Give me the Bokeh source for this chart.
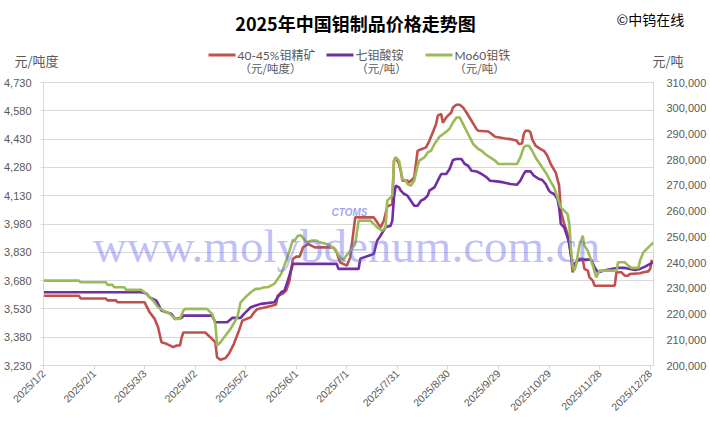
import math
import pandas as pd
from bokeh.plotting import figure
from bokeh.layouts import column
from bokeh.models import (Range1d, LinearAxis, FixedTicker, NumeralTickFormatter,
                          CustomJSTickFormatter, Label, BoxAnnotation)
from bokeh.embed import file_html
from bokeh.resources import INLINE

# ---------------- data ----------------
title_text = "2025年中国钼制品价格走势图"
copyright_text = "©中钨在线"
left_unit = "元/吨度"
right_unit = "元/吨"
series_names = ["40-45%钼精矿", "七钼酸铵", "Mo60钼铁"]
series_units = ["（元/吨度）", "（元/吨）", "（元/吨）"]

x_ticks = ["2025-01-02", "2025-02-01", "2025-03-03", "2025-04-02", "2025-05-02",
           "2025-06-01", "2025-07-01", "2025-07-31", "2025-08-30", "2025-09-29",
           "2025-10-29", "2025-11-28", "2025-12-28"]
left_ticks = [3230, 3380, 3530, 3680, 3830, 3980, 4130, 4280, 4430, 4580, 4730]
right_ticks = [200000, 210000, 220000, 230000, 240000, 250000, 260000, 270000,
               280000, 290000, 300000, 310000]

conc_dates = ["2025-01-02", "2025-01-23", "2025-01-24", "2025-02-08", "2025-02-09", "2025-02-14",
              "2025-02-15", "2025-03-03", "2025-03-06", "2025-03-09", "2025-03-11", "2025-03-13",
              "2025-03-16", "2025-03-20", "2025-03-22", "2025-03-24", "2025-03-25", "2025-03-26",
              "2025-04-08", "2025-04-11", "2025-04-14", "2025-04-15", "2025-04-17", "2025-04-20",
              "2025-04-22", "2025-04-25", "2025-04-28", "2025-04-30", "2025-05-05", "2025-05-07",
              "2025-05-09", "2025-05-14", "2025-05-18", "2025-05-20", "2025-05-21", "2025-05-24",
              "2025-05-26", "2025-05-28", "2025-05-30", "2025-06-01", "2025-06-03", "2025-06-05",
              "2025-06-08", "2025-06-10", "2025-06-12", "2025-06-23", "2025-06-25", "2025-06-27",
              "2025-07-01", "2025-07-03", "2025-07-06", "2025-07-17", "2025-07-19", "2025-07-21",
              "2025-07-23", "2025-07-25", "2025-07-28", "2025-07-29", "2025-07-30", "2025-08-01",
              "2025-08-02", "2025-08-03", "2025-08-06", "2025-08-07", "2025-08-10", "2025-08-12",
              "2025-08-17", "2025-08-19", "2025-08-21", "2025-08-23", "2025-08-24", "2025-08-26",
              "2025-08-27", "2025-08-29", "2025-09-01", "2025-09-02", "2025-09-04", "2025-09-06",
              "2025-09-08", "2025-09-10", "2025-09-13", "2025-09-16", "2025-09-17", "2025-09-23",
              "2025-09-25", "2025-09-27", "2025-10-03", "2025-10-06", "2025-10-10", "2025-10-11",
              "2025-10-13", "2025-10-14", "2025-10-15", "2025-10-17", "2025-10-18", "2025-10-19",
              "2025-10-21", "2025-10-24", "2025-10-26", "2025-10-28", "2025-10-30", "2025-11-02",
              "2025-11-04", "2025-11-05", "2025-11-07", "2025-11-09", "2025-11-11", "2025-11-12",
              "2025-11-14", "2025-11-16", "2025-11-18", "2025-11-19", "2025-11-21", "2025-11-22",
              "2025-11-24", "2025-11-25", "2025-12-07", "2025-12-08", "2025-12-11", "2025-12-13",
              "2025-12-15", "2025-12-16", "2025-12-22", "2025-12-24", "2025-12-27", "2025-12-28",
              "2025-12-29"]
conc_vals = [3600, 3600, 3585, 3585, 3575, 3575,
             3565, 3565, 3512, 3477, 3433, 3353,
             3345, 3327, 3336, 3336, 3380, 3405,
             3405, 3380, 3353, 3274, 3260, 3269,
             3292, 3345, 3415, 3468, 3486, 3512,
             3530, 3539, 3548, 3553, 3601, 3610,
             3627, 3680, 3795, 3807, 3807, 3856,
             3874, 3865, 3856, 3856, 3830, 3777,
             3759, 3803, 4015, 4015, 3989, 3962,
             3998, 4072, 4086, 4315, 4333, 4298,
             4262, 4210, 4210, 4200, 4227, 4368,
             4386, 4421, 4465, 4510, 4554, 4563,
             4517, 4545, 4571, 4598, 4612, 4612,
             4598, 4571, 4527, 4483, 4474, 4470,
             4457, 4442, 4433, 4430, 4421, 4404,
             4407, 4457, 4474, 4474, 4465, 4430,
             4395, 4377, 4368, 4342, 4298, 4252,
             4183, 4051, 3980, 3927, 3821, 3724,
             3777, 3795, 3795, 3742, 3733, 3697,
             3680, 3653, 3653, 3724, 3724, 3706,
             3706, 3715, 3719, 3724, 3729, 3742,
             3790]

apt_dates = ["2025-01-02", "2025-03-01", "2025-03-04", "2025-03-06", "2025-03-10", "2025-03-13",
             "2025-03-16", "2025-03-19", "2025-03-21", "2025-03-25", "2025-03-26", "2025-04-12",
             "2025-04-14", "2025-04-21", "2025-04-24", "2025-04-29", "2025-05-01", "2025-05-05",
             "2025-05-08", "2025-05-11", "2025-05-19", "2025-05-21", "2025-05-23", "2025-05-25",
             "2025-05-27", "2025-05-30", "2025-06-25", "2025-06-26", "2025-07-08", "2025-07-09",
             "2025-07-17", "2025-07-19", "2025-07-21", "2025-07-24", "2025-07-27", "2025-07-28",
             "2025-07-29", "2025-07-30", "2025-08-01", "2025-08-02", "2025-08-04", "2025-08-06",
             "2025-08-08", "2025-08-10", "2025-08-12", "2025-08-14", "2025-08-16", "2025-08-18",
             "2025-08-19", "2025-08-22", "2025-08-24", "2025-08-26", "2025-08-29", "2025-08-31",
             "2025-09-02", "2025-09-04", "2025-09-07", "2025-09-09", "2025-09-11", "2025-09-13",
             "2025-09-16", "2025-09-19", "2025-09-22", "2025-09-24", "2025-09-28", "2025-10-02",
             "2025-10-06", "2025-10-10", "2025-10-12", "2025-10-14", "2025-10-15", "2025-10-18",
             "2025-10-20", "2025-10-23", "2025-10-25", "2025-10-27", "2025-10-29", "2025-10-30",
             "2025-11-01", "2025-11-03", "2025-11-04", "2025-11-05", "2025-11-07", "2025-11-09",
             "2025-11-10", "2025-11-11", "2025-11-12", "2025-11-13", "2025-11-15", "2025-11-17",
             "2025-11-23", "2025-11-25", "2025-11-27", "2025-12-02", "2025-12-08", "2025-12-13",
             "2025-12-16", "2025-12-19", "2025-12-22", "2025-12-25", "2025-12-28", "2025-12-30"]
apt_vals = [228500, 228500, 228000, 226500, 225200, 221350,
            220700, 220070, 218100, 218500, 219400, 219400,
            216800, 216800, 218500, 218500, 220070, 222630,
            223300, 223950, 224570, 226500, 228460, 229100,
            233000, 239490, 239490, 237540, 237540, 241540,
            243370, 248530, 250470, 253700, 254360, 256300,
            265350, 269890, 269230, 267950, 266670, 266010,
            264060, 262120, 262120, 264060, 264720, 266010,
            267950, 269230, 271830, 274430, 274430, 276370,
            279870, 280260, 280260, 278310, 277650, 275710,
            275440, 274430, 273110, 271830, 271560, 271170,
            270550, 270280, 271830, 274430, 275440, 275440,
            273770, 272490, 272100, 270550, 267950, 267300,
            266670, 264720, 261460, 255020, 253700, 249810,
            247250, 242710, 238820, 239490, 240770, 241150,
            241150, 238160, 236220, 237150, 237930, 237930,
            237540, 237150, 237540, 238440, 239490, 240110]

femo_dates = ["2025-01-02", "2025-01-23", "2025-01-24", "2025-02-08", "2025-02-09", "2025-02-12",
              "2025-02-13", "2025-02-19", "2025-02-20", "2025-03-01", "2025-03-04", "2025-03-08",
              "2025-03-11", "2025-03-14", "2025-03-18", "2025-03-21", "2025-03-24", "2025-03-26",
              "2025-03-27", "2025-04-09", "2025-04-12", "2025-04-14", "2025-04-15", "2025-04-17",
              "2025-04-20", "2025-04-23", "2025-04-27", "2025-04-29", "2025-05-01", "2025-05-05",
              "2025-05-08", "2025-05-10", "2025-05-13", "2025-05-15", "2025-05-17", "2025-05-19",
              "2025-05-23", "2025-05-26", "2025-05-28", "2025-05-30", "2025-05-31", "2025-06-02",
              "2025-06-04", "2025-06-07", "2025-06-10", "2025-06-13", "2025-06-15", "2025-06-19",
              "2025-06-21", "2025-06-24", "2025-06-27", "2025-06-29", "2025-07-01", "2025-07-04",
              "2025-07-06", "2025-07-08", "2025-07-15", "2025-07-17", "2025-07-19", "2025-07-22",
              "2025-07-24", "2025-07-25", "2025-07-27", "2025-07-28", "2025-07-29", "2025-07-30",
              "2025-08-01", "2025-08-02", "2025-08-03", "2025-08-05", "2025-08-06", "2025-08-08",
              "2025-08-10", "2025-08-12", "2025-08-13", "2025-08-16", "2025-08-18", "2025-08-20",
              "2025-08-22", "2025-08-25", "2025-08-29", "2025-08-31", "2025-09-02", "2025-09-04",
              "2025-09-06", "2025-09-08", "2025-09-10", "2025-09-12", "2025-09-14", "2025-09-17",
              "2025-09-19", "2025-09-21", "2025-09-24", "2025-09-27", "2025-09-29", "2025-10-10",
              "2025-10-12", "2025-10-14", "2025-10-15", "2025-10-17", "2025-10-19", "2025-10-21",
              "2025-10-23", "2025-10-25", "2025-10-27", "2025-10-29", "2025-10-30", "2025-11-01",
              "2025-11-03", "2025-11-05", "2025-11-08", "2025-11-09", "2025-11-10", "2025-11-11",
              "2025-11-12", "2025-11-13", "2025-11-14", "2025-11-16", "2025-11-18", "2025-11-19",
              "2025-11-21", "2025-11-22", "2025-11-24", "2025-11-26", "2025-11-28", "2025-12-08",
              "2025-12-09", "2025-12-13", "2025-12-15", "2025-12-17", "2025-12-21", "2025-12-22",
              "2025-12-24", "2025-12-26", "2025-12-28", "2025-12-30"]
femo_vals = [233000, 233000, 232340, 232340, 231330, 231330,
             230400, 230400, 229390, 229390, 227840, 225230,
             222630, 221350, 220070, 218130, 218130, 221350,
             222010, 222010, 220070, 216190, 207760, 209040,
             211640, 214240, 218750, 224570, 226000, 228460,
             229780, 229780, 230400, 230400, 231060, 231720,
             235600, 240770, 244650, 248800, 248530, 250470,
             250470, 247870, 248530, 248530, 247870, 247250,
             246590, 245310, 242050, 241000, 243000, 245310,
             247250, 256300, 256300, 255020, 253700, 252410,
             253700, 264060, 265350, 266010, 279600, 280880,
             279600, 276370, 272490, 271830, 270550, 269890,
             271830, 277650, 279600, 280880, 282820, 283480,
             286080, 288900, 290860, 292020, 294470, 296410,
             296410, 293850, 291250, 288640, 286080, 284140,
             283480, 282200, 280880, 279600, 278310, 278310,
             280880, 284760, 285420, 285420, 283480, 280880,
             278940, 276990, 275050, 272600, 271440, 269230,
             265350, 261460, 259520, 258900, 255020, 245930,
             238820, 236880, 238820, 246590, 250470, 246590,
             244650, 242710, 238820, 234280, 236880, 236880,
             240110, 240110, 238820, 237930, 237930, 240770,
             243990, 245310, 246590, 247870]

colors = ["#C0504D", "#7030A0", "#9BBB59"]
tick_color = "#595959"
num_font = "Liberation Sans"
cjk_font = "Noto Sans CJK SC"
mixed_font = "Lato, 'Noto Sans CJK SC'"

W = 710
HDR_H = 76
MAIN_H = 351

# ---------------- header (title, units, legend) ----------------
hdr = figure(width=W, height=HDR_H, x_range=Range1d(0, W), y_range=Range1d(HDR_H, 0),
             output_backend="svg", toolbar_location=None, title=None,
             x_axis_location=None, y_axis_location=None, min_border=0)
hdr.frame_align = False
hdr.outline_line_color = None
hdr.grid.visible = False
hdr.background_fill_color = "white"
hdr.border_fill_color = "white"

hdr.add_layout(Label(x=355, y=22, text=title_text, text_font=cjk_font,
                     text_font_style="bold", text_font_size="18px", text_color="black",
                     text_align="center", text_baseline="middle"))
hdr.add_layout(Label(x=616, y=18, text=copyright_text, text_font=cjk_font,
                     text_font_size="14px", text_color="black",
                     text_align="left", text_baseline="middle"))
hdr.add_layout(Label(x=14, y=60, text=left_unit, text_font=cjk_font,
                     text_font_size="13px", text_color=tick_color,
                     text_align="left", text_baseline="middle"))
hdr.add_layout(Label(x=652, y=60, text=right_unit, text_font=cjk_font,
                     text_font_size="13px", text_color=tick_color,
                     text_align="left", text_baseline="middle"))

sample_x = [208, 326, 425]
unit_cx = [270, 381, 479]
for i in range(3):
    hdr.add_layout(BoxAnnotation(left=sample_x[i], right=sample_x[i] + 27,
                                 top=53, bottom=56,
                                 fill_color=colors[i], fill_alpha=1, line_alpha=0))
    hdr.add_layout(Label(x=sample_x[i] + 29, y=54.5, text=series_names[i], text_font=mixed_font,
                         text_font_size="12px", text_color=tick_color,
                         text_align="left", text_baseline="middle"))
    hdr.add_layout(Label(x=unit_cx[i], y=67.5, text=series_units[i], text_font=cjk_font,
                         text_font_size="11.5px", text_color=tick_color,
                         text_align="center", text_baseline="middle"))

# ---------------- main chart ----------------
p = figure(width=W, height=MAIN_H, x_axis_type="datetime", output_backend="svg",
           toolbar_location=None, title=None,
           x_range=Range1d(pd.Timestamp("2025-01-02"), pd.Timestamp("2025-12-30")),
           y_range=Range1d(left_ticks[0], left_ticks[-1]),
           min_border_left=43, min_border_right=57, min_border_top=6, min_border_bottom=62)
p.frame_align = False
p.extra_y_ranges = {"ton": Range1d(right_ticks[0], right_ticks[-1])}
p.background_fill_color = "white"
p.border_fill_color = "white"
p.outline_line_color = "#d9d9d9"

xa = p.xaxis[0]
xa.ticker = FixedTicker(ticks=[pd.Timestamp(t).value / 1e6 for t in x_ticks])
xa.formatter = CustomJSTickFormatter(code="""
const d = new Date(tick);
return d.getUTCFullYear() + '/' + (d.getUTCMonth() + 1) + '/' + d.getUTCDate();
""")
xa.major_label_orientation = math.pi / 4
xa.major_label_text_font = num_font
xa.major_label_text_font_size = "10.5px"
xa.major_label_text_color = tick_color
xa.axis_line_color = "#d9d9d9"
xa.major_tick_line_color = "#d9d9d9"
xa.major_tick_out = 4
xa.major_tick_in = 0
xa.minor_tick_line_color = None
xa.major_label_standoff = 2

ya = p.yaxis[0]
ya.ticker = FixedTicker(ticks=left_ticks)
ya.formatter = NumeralTickFormatter(format="0,0")
ya.major_label_text_font = num_font
ya.major_label_text_font_size = "11px"
ya.major_label_text_color = tick_color
ya.axis_line_color = "#d9d9d9"
ya.major_tick_line_color = "#d9d9d9"
ya.major_tick_out = 3
ya.major_tick_in = 0
ya.minor_tick_line_color = None
ya.major_label_standoff = 9

ra = LinearAxis(y_range_name="ton", ticker=FixedTicker(ticks=right_ticks),
                formatter=NumeralTickFormatter(format="0,0"))
ra.major_label_text_font = num_font
ra.major_label_text_font_size = "11px"
ra.major_label_text_color = tick_color
ra.axis_line_color = "#d9d9d9"
ra.major_tick_line_color = None
ra.minor_tick_line_color = None
ra.major_label_standoff = 7
p.add_layout(ra, "right")

p.xgrid.visible = False
p.ygrid.grid_line_color = "#d9d9d9"
p.ygrid.grid_line_width = 1

p.line(pd.to_datetime(conc_dates), conc_vals, line_color=colors[0], line_width=2.6)
p.line(pd.to_datetime(apt_dates), apt_vals, line_color=colors[1], line_width=2.6,
       y_range_name="ton")
p.line(pd.to_datetime(femo_dates), femo_vals, line_color=colors[2], line_width=2.6,
       y_range_name="ton")

# watermark
p.add_layout(Label(x=346, y=169, x_units="canvas", y_units="canvas",
                   text="www.molybdenum.com.cn", text_font="Liberation Serif",
                   text_font_size="47px", text_color="#6464f0", text_alpha=0.42,
                   text_align="center", text_baseline="middle"))
p.add_layout(Label(x=349, y=136, x_units="canvas", y_units="canvas",
                   text="CTOMS", text_font="Liberation Sans", text_font_style="bold italic",
                   text_font_size="10px", text_color="#6464f0", text_alpha=0.6,
                   text_align="center", text_baseline="middle"))

layout = column(hdr, p, spacing=0)
open("out.html", "w").write(file_html(layout, INLINE))
